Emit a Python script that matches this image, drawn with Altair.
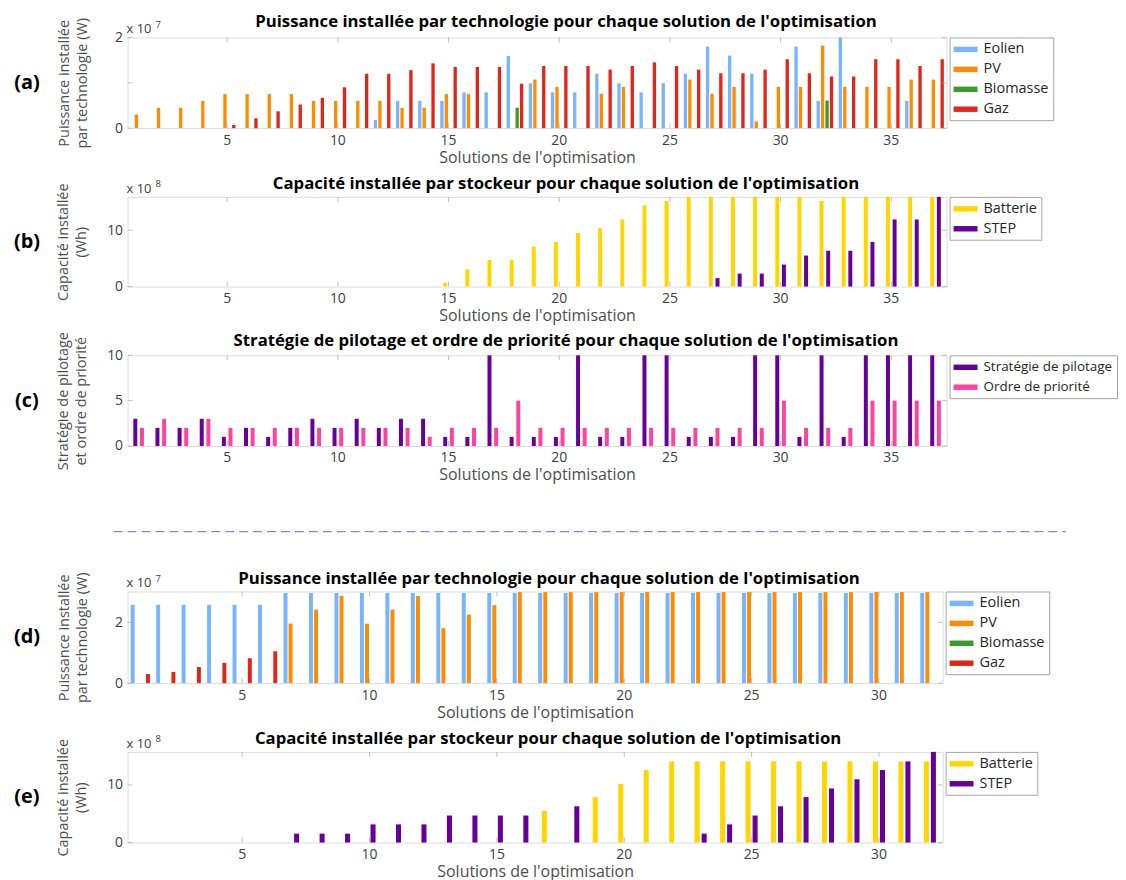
import altair as alt
import pandas as pd

# ---------------- data ----------------
SOL_ABC = list(range(1, 38))
SOL_DE = list(range(1, 33))
XTICKS_ABC = [5, 10, 15, 20, 25, 30, 35]
XTICKS_DE = [5, 10, 15, 20, 25, 30]

TECH = ["Eolien", "PV", "Biomasse", "Gaz"]
TECH_COLORS = ["#77b5fe", "#ff8c00", "#3a9a2a", "#e0261b"]
STOCK = ["Batterie", "STEP"]
STOCK_COLORS = ["#ffd700", "#660099"]
PILOT = ["Stratégie de pilotage", "Ordre de priorité"]
PILOT_COLORS = ["#660099", "#ff44a0"]

# (a) puissance installée, x 1e7 W
a_eolien = [0, 0, 0, 0, 0, 0, 0, 0, 0, 0, 0, 0.18, 0.6, 0.6, 0.6, 0.79, 0.79, 1.59, 0.99, 0.79,
            0.79, 1.2, 0.99, 0.79, 0.99, 1.2, 1.8, 1.6, 1.2, 0, 1.8, 0.6, 2.0, 0, 0, 0.6, 0]
a_pv = [0.3, 0.45, 0.45, 0.6, 0.75, 0.75, 0.75, 0.75, 0.6, 0.6, 0.6, 0.6, 0.45, 0.45, 0.75, 0.75, 0, 0,
        1.07, 0.91, 0, 0.76, 0.91, 0, 0, 1.07, 0.76, 0.91, 0.15, 0.91, 0.91, 1.82, 0.91, 0.91, 0.91, 1.07, 1.07]
a_bio = [0, 0, 0, 0, 0, 0, 0, 0, 0, 0, 0, 0, 0, 0, 0, 0, 0, 0.45, 0, 0,
         0, 0, 0, 0, 0, 0, 0, 0, 0, 0, 0, 0.61, 0, 0, 0, 0, 0]
a_gaz = [0, 0, 0, 0, 0.07, 0.22, 0.37, 0.52, 0.67, 0.9, 1.2, 1.2, 1.28, 1.43, 1.35, 1.35, 1.35, 0.98,
         1.37, 1.37, 1.37, 1.29, 1.37, 1.45, 1.37, 1.29, 1.21, 1.21, 1.29, 1.52, 1.21, 1.14, 1.14, 1.52,
         1.52, 1.37, 1.52]

# (b) capacité installée, x 1e8 Wh
b_batt = [0, 0, 0, 0, 0, 0, 0, 0, 0, 0, 0, 0, 0, 0, 0.7, 3.06, 4.7, 4.7, 7.1, 7.9, 9.5, 10.35, 11.9,
          14.4, 15.2, 15.9, 15.9, 15.9, 15.9, 15.9, 15.9, 15.2, 15.9, 15.9, 15.9, 15.9, 15.9]
b_step = [0, 0, 0, 0, 0, 0, 0, 0, 0, 0, 0, 0, 0, 0, 0, 0, 0, 0, 0, 0, 0, 0, 0, 0, 0, 0,
          1.5, 2.3, 2.3, 3.9, 5.5, 6.35, 6.35, 7.9, 11.9, 11.9, 15.9]

# (c) stratégie / ordre
c_strat = [3, 2, 2, 3, 1, 2, 1, 2, 3, 2, 3, 2, 3, 3, 1, 1, 10, 1, 1, 1,
           10, 1, 1, 10, 10, 1, 1, 1, 10, 10, 1, 10, 1, 10, 10, 10, 10]
c_ordre = [2, 3, 2, 3, 2, 2, 2, 2, 2, 2, 2, 2, 2, 1, 2, 2, 2, 5, 2, 2,
           2, 2, 2, 2, 2, 2, 2, 2, 2, 5, 2, 2, 2, 5, 5, 5, 5]

# (d) puissance installée, x 1e7 W
d_eolien = [2.58, 2.58, 2.58, 2.58, 2.58, 2.58, 2.97, 2.97, 2.97, 2.97, 2.97, 2.97, 2.97, 2.97, 2.97, 2.97,
            2.97, 2.97, 2.97, 2.97, 2.97, 2.97, 2.97, 2.97, 2.97, 2.97, 2.97, 2.97, 2.97, 2.97, 2.97, 2.97]
d_pv = [0, 0, 0, 0, 0, 0, 1.96, 2.42, 2.87, 1.96, 2.42, 2.87, 1.81, 2.26, 2.57, 3.0,
        3.0, 3.0, 3.0, 3.0, 3.0, 3.0, 3.0, 3.0, 3.0, 3.0, 3.0, 3.0, 3.0, 3.0, 3.0, 3.0]
d_bio = [0, 0, 0, 0, 0, 0, 0, 0, 0, 0, 0, 0, 0, 0, 0, 0,
         0, 0, 0, 0, 0, 0, 0, 0, 0, 0, 0, 0, 0, 0, 0, 0]
d_gaz = [0.3, 0.37, 0.53, 0.67, 0.82, 1.05, 0, 0, 0, 0, 0, 0, 0, 0, 0, 0,
         0, 0, 0, 0, 0, 0, 0, 0, 0, 0, 0, 0, 0, 0, 0, 0]

# (e) capacité installée, x 1e8 Wh
e_batt = [0, 0, 0, 0, 0, 0, 0, 0, 0, 0, 0, 0, 0, 0, 0, 0, 5.5, 0, 7.9, 10.2,
          12.6, 14.1, 14.1, 14.1, 14.1, 14.1, 14.1, 14.1, 14.1, 14.1, 14.1, 14.1]
e_step = [0, 0, 0, 0, 0, 0, 1.55, 1.55, 1.55, 3.16, 3.16, 3.16, 4.7, 4.7, 4.7, 4.7, 0, 6.3, 0, 0,
          0, 0, 1.55, 3.16, 4.7, 6.3, 7.9, 9.4, 11.0, 12.6, 14.1, 15.75]

# ---------------- style ----------------
FONT = "Open Sans"
BOX = "#a6a6a6"
LBL = "#404040"
SYM = "M-1.5,-0.34H1.5V0.34H-1.5Z"


def long_df(sols, names, values):
    rows = []
    for name, vals in zip(names, values):
        for s, v in zip(sols, vals):
            rows.append({"sol": s, "serie": name, "v": v})
    return pd.DataFrame(rows)


def panel(sols, xticks, names, values, colors, W, H, ymax, yticks, title, title_dx, title_y,
          ytitle, tpad, letter, expo, xpi, opi, legfont):
    df = long_df(sols, names, values)
    X = alt.X("sol:O",
              scale=alt.Scale(domain=sols, paddingInner=xpi, paddingOuter=xpi / 2),
              axis=alt.Axis(values=xticks, labelAngle=0, ticks=False, domain=False, grid=False,
                            title="Solutions de l'optimisation", labelFont=FONT, labelFontSize=14,
                            labelColor=LBL, labelPadding=5, titleFont=FONT, titleFontSize=16,
                            titleFontWeight="normal", titleColor="#4d4d4d", titlePadding=2))
    Y = alt.Y("v:Q",
              scale=alt.Scale(domain=[0, ymax], nice=False, zero=True),
              axis=alt.Axis(values=yticks, ticks=False, domain=False, grid=False, format="d",
                            title=ytitle, labelFont=FONT, labelFontSize=14, labelColor=LBL,
                            labelPadding=5, titleFont=FONT, titleFontSize=14.5,
                            titleFontWeight="normal", titleColor="#4d4d4d", titlePadding=tpad,
                            titleLineHeight=18))
    bars = alt.Chart(df).transform_filter("datum.v > 0").mark_bar().encode(
        x=X, y=Y,
        xOffset=alt.XOffset("serie:N", scale=alt.Scale(domain=names, paddingInner=opi,
                                                         paddingOuter=opi / 2)),
        color=alt.Color("serie:N", scale=alt.Scale(domain=names, range=colors),
                        legend=alt.Legend(title=None, orient="right", offset=3, padding=4,
                                          strokeColor=BOX, fillColor="white", symbolType=SYM,
                                          symbolSize=256, symbolStrokeWidth=0, symbolOpacity=1,
                                          symbolOffset=4, labelFont=FONT, labelFontSize=legfont,
                                          labelColor="#262626", labelOffset=10, rowPadding=5,
                                          cornerRadius=0)),
    )
    txdf = pd.DataFrame({"sol": xticks})
    tydf = pd.DataFrame({"v": yticks})
    tb = alt.Chart(txdf).mark_tick(orient="vertical", size=5, thickness=1, color=BOX).encode(
        x=X, y=alt.value(H - 2.5))
    tt = alt.Chart(txdf).mark_tick(orient="vertical", size=5, thickness=1, color=BOX).encode(
        x=X, y=alt.value(2.5))
    tl = alt.Chart(tydf).mark_tick(orient="horizontal", size=5, thickness=1, color=BOX).encode(
        y=Y, x=alt.value(2.5))
    tr = alt.Chart(tydf).mark_tick(orient="horizontal", size=5, thickness=1, color=BOX).encode(
        y=Y, x=alt.value(W - 2.5))
    dummy = pd.DataFrame({"d": [0]})
    let = alt.Chart(dummy).mark_text(text=letter, font=FONT, fontSize=20, fontWeight="bold",
                                     color="black", align="center", baseline="middle").encode(
        x=alt.value(-101), y=alt.value(H / 2))
    ttl = alt.Chart(dummy).mark_text(text=title, font=FONT, fontSize=16.8, fontWeight="bold",
                                     color="black", align="center", baseline="middle").encode(
        x=alt.value(W / 2 + title_dx), y=alt.value(title_y))
    layers = [bars, tb, tt, tl, tr, let, ttl]
    if expo:
        ex1 = alt.Chart(dummy).mark_text(text="x 10", font=FONT, fontSize=13, color=LBL,
                                         align="left", baseline="alphabetic").encode(
            x=alt.value(-1), y=alt.value(-4))
        ex2 = alt.Chart(dummy).mark_text(text=expo, font=FONT, fontSize=9.5, color=LBL,
                                         align="left", baseline="alphabetic").encode(
            x=alt.value(28), y=alt.value(-10))
        layers += [ex1, ex2]
    return alt.layer(*layers).properties(width=W, height=H)


pa = panel(SOL_ABC, XTICKS_ABC, TECH, [a_eolien, a_pv, a_bio, a_gaz], TECH_COLORS, 822, 91, 2,
           [0, 1, 2], "Puissance installée par technologie pour chaque solution de l'optimisation", 29, -16,
           ["Puissance installée", "par technologie (W)"], 25, "(a)", "7", 0.2, 0.25, 14.5)
pb = panel(SOL_ABC, XTICKS_ABC, STOCK, [b_batt, b_step], STOCK_COLORS, 822, 90, 15.9,
           [0, 10], "Capacité installée par stockeur pour chaque solution de l'optimisation", 29, -13,
           ["Capacité installée", "(Wh)"], 18, "(b)", "8", 0.4, 0.4, 14.5)
pc = panel(SOL_ABC, XTICKS_ABC, PILOT, [c_strat, c_ordre], PILOT_COLORS, 822, 91, 10,
           [0, 5, 10], "Stratégie de pilotage et ordre de priorité pour chaque solution de l'optimisation", 29, -14,
           ["Stratégie de pilotage", "et ordre de priorité"], 18, "(c)", "", 0.4, 0.4, 13.5)
pd_ = panel(SOL_DE, XTICKS_DE, TECH, [d_eolien, d_pv, d_bio, d_gaz], TECH_COLORS, 818, 92, 3.02,
            [0, 2], "Puissance installée par technologie pour chaque solution de l'optimisation", 14, -13,
            ["Puissance installée", "par technologie (W)"], 25, "(d)", "7", 0.2, 0.22, 14.5)
pe = panel(SOL_DE, XTICKS_DE, STOCK, [e_batt, e_step], STOCK_COLORS, 818, 91, 15.75,
           [0, 10], "Capacité installée par stockeur pour chaque solution de l'optimisation", 13, -13,
           ["Capacité installée", "(Wh)"], 18, "(e)", "8", 0.45, 0.28, 14.5)

spacer = alt.Chart(pd.DataFrame({"d": [0]})).mark_rule(
    strokeDash=[9, 5], color="#8585f0", strokeWidth=1.3).encode(
    x=alt.value(-14), x2=alt.value(942), y=alt.value(17)).properties(
    width=822, height=8, view=alt.ViewBackground(stroke="transparent"))

chart = alt.vconcat(pa, pb, pc, spacer, pd_, pe, spacing=69, bounds="flush").resolve_scale(
    color="independent", x="independent", y="independent", xOffset="independent"
).properties(padding={"left": 5, "top": 3, "right": 0, "bottom": 0}).configure_view(
    stroke=BOX, strokeWidth=1
).configure(background="white")

chart.save("out.html", embed_options={"renderer": "svg", "actions": False})
